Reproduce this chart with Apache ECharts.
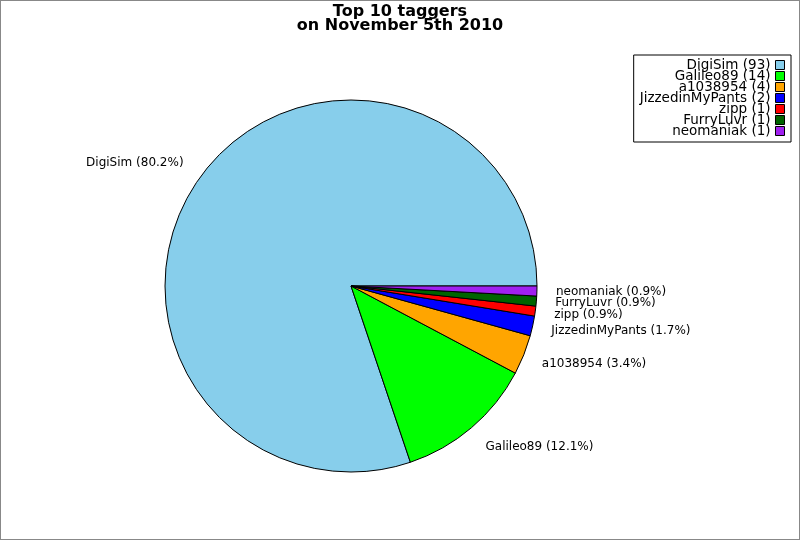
<!DOCTYPE html>
<html>
<head>
<meta charset="utf-8">
<script src="https://cdn.jsdelivr.net/npm/echarts@6/dist/echarts.min.js"></script>
<style>
	html, body { margin: 0; padding: 0; background: #fff; }
	#chart { width: 800px; height: 540px; box-sizing: border-box; border: 1px solid #888; }
</style>
</head>
<body>
<div id="chart"></div>
<script>
// tagger names and tag counts
const names = ['DigiSim', 'Galileo89', 'a1038954', 'JizzedinMyPants', 'zipp', 'FurryLuvr', 'neomaniak'];
const counts = [93, 14, 4, 2, 1, 1, 1];
const colors = ['#87ceeb', '#00ff00', '#ffa500', '#0000ff', '#ff0000', '#006400', '#a020f0'];

const total = counts.reduce((a, b) => a + b, 0);
const font = 'DejaVu Sans';

// mid angle of each slice (counter-clockwise from 3 o'clock), used to nudge labels off the rim
const midAngles = [];
let acc = 0;
counts.forEach((v) => {
	midAngles.push((acc + v / 2) / total * Math.PI * 2);
	acc += v;
});

const myChart = echarts.init(document.getElementById('chart'));
myChart.setOption({
	animation: false,
	title: {
		text: 'Top 10 taggers\non November 5th 2010',
		left: 'center',
		top: -1,
		textStyle: { fontFamily: font, fontSize: 16, fontWeight: 'bold', color: '#000', lineHeight: 14 }
	},
	legend: {
		orient: 'vertical',
		right: 8,
		top: 54,
		align: 'right',
		itemWidth: 9,
		itemHeight: 9,
		itemGap: -3,
		padding: [3, 6, 4, 6],
		borderColor: '#000',
		borderWidth: 1,
		backgroundColor: '#fff',
		icon: 'rect',
		itemStyle: { borderColor: '#000', borderWidth: 1 },
		textStyle: { fontFamily: font, fontSize: 13.5, lineHeight: 11, color: '#000', padding: [0, 0, 0, 0] },
		formatter: (n) => n + ' (' + counts[names.indexOf(n)] + ')',
		data: names
	},
	series: [{
		type: 'pie',
		center: [350, 285],
		radius: 186,
		startAngle: 0,
		clockwise: false,
		avoidLabelOverlap: false,
		itemStyle: { borderColor: '#000', borderWidth: 1 },
		label: {
			show: true,
			position: 'outside',
			fontFamily: font,
			fontSize: 12,
			lineHeight: 11,
			color: '#000',
			formatter: (p) => p.name + ' (' + (p.value / total * 100).toFixed(1) + '%)'
		},
		labelLine: { show: false, length: 14, length2: 0 },
		labelLayout: (p) => ({
			hideOverlap: false,
			dy: -Math.sin(midAngles[p.dataIndex]) * p.labelRect.height * 0.9
		}),
		emphasis: { disabled: true },
		data: names.map((n, i) => ({ name: n, value: counts[i], itemStyle: { color: colors[i] } }))
	}]
});
</script>
</body>
</html>
